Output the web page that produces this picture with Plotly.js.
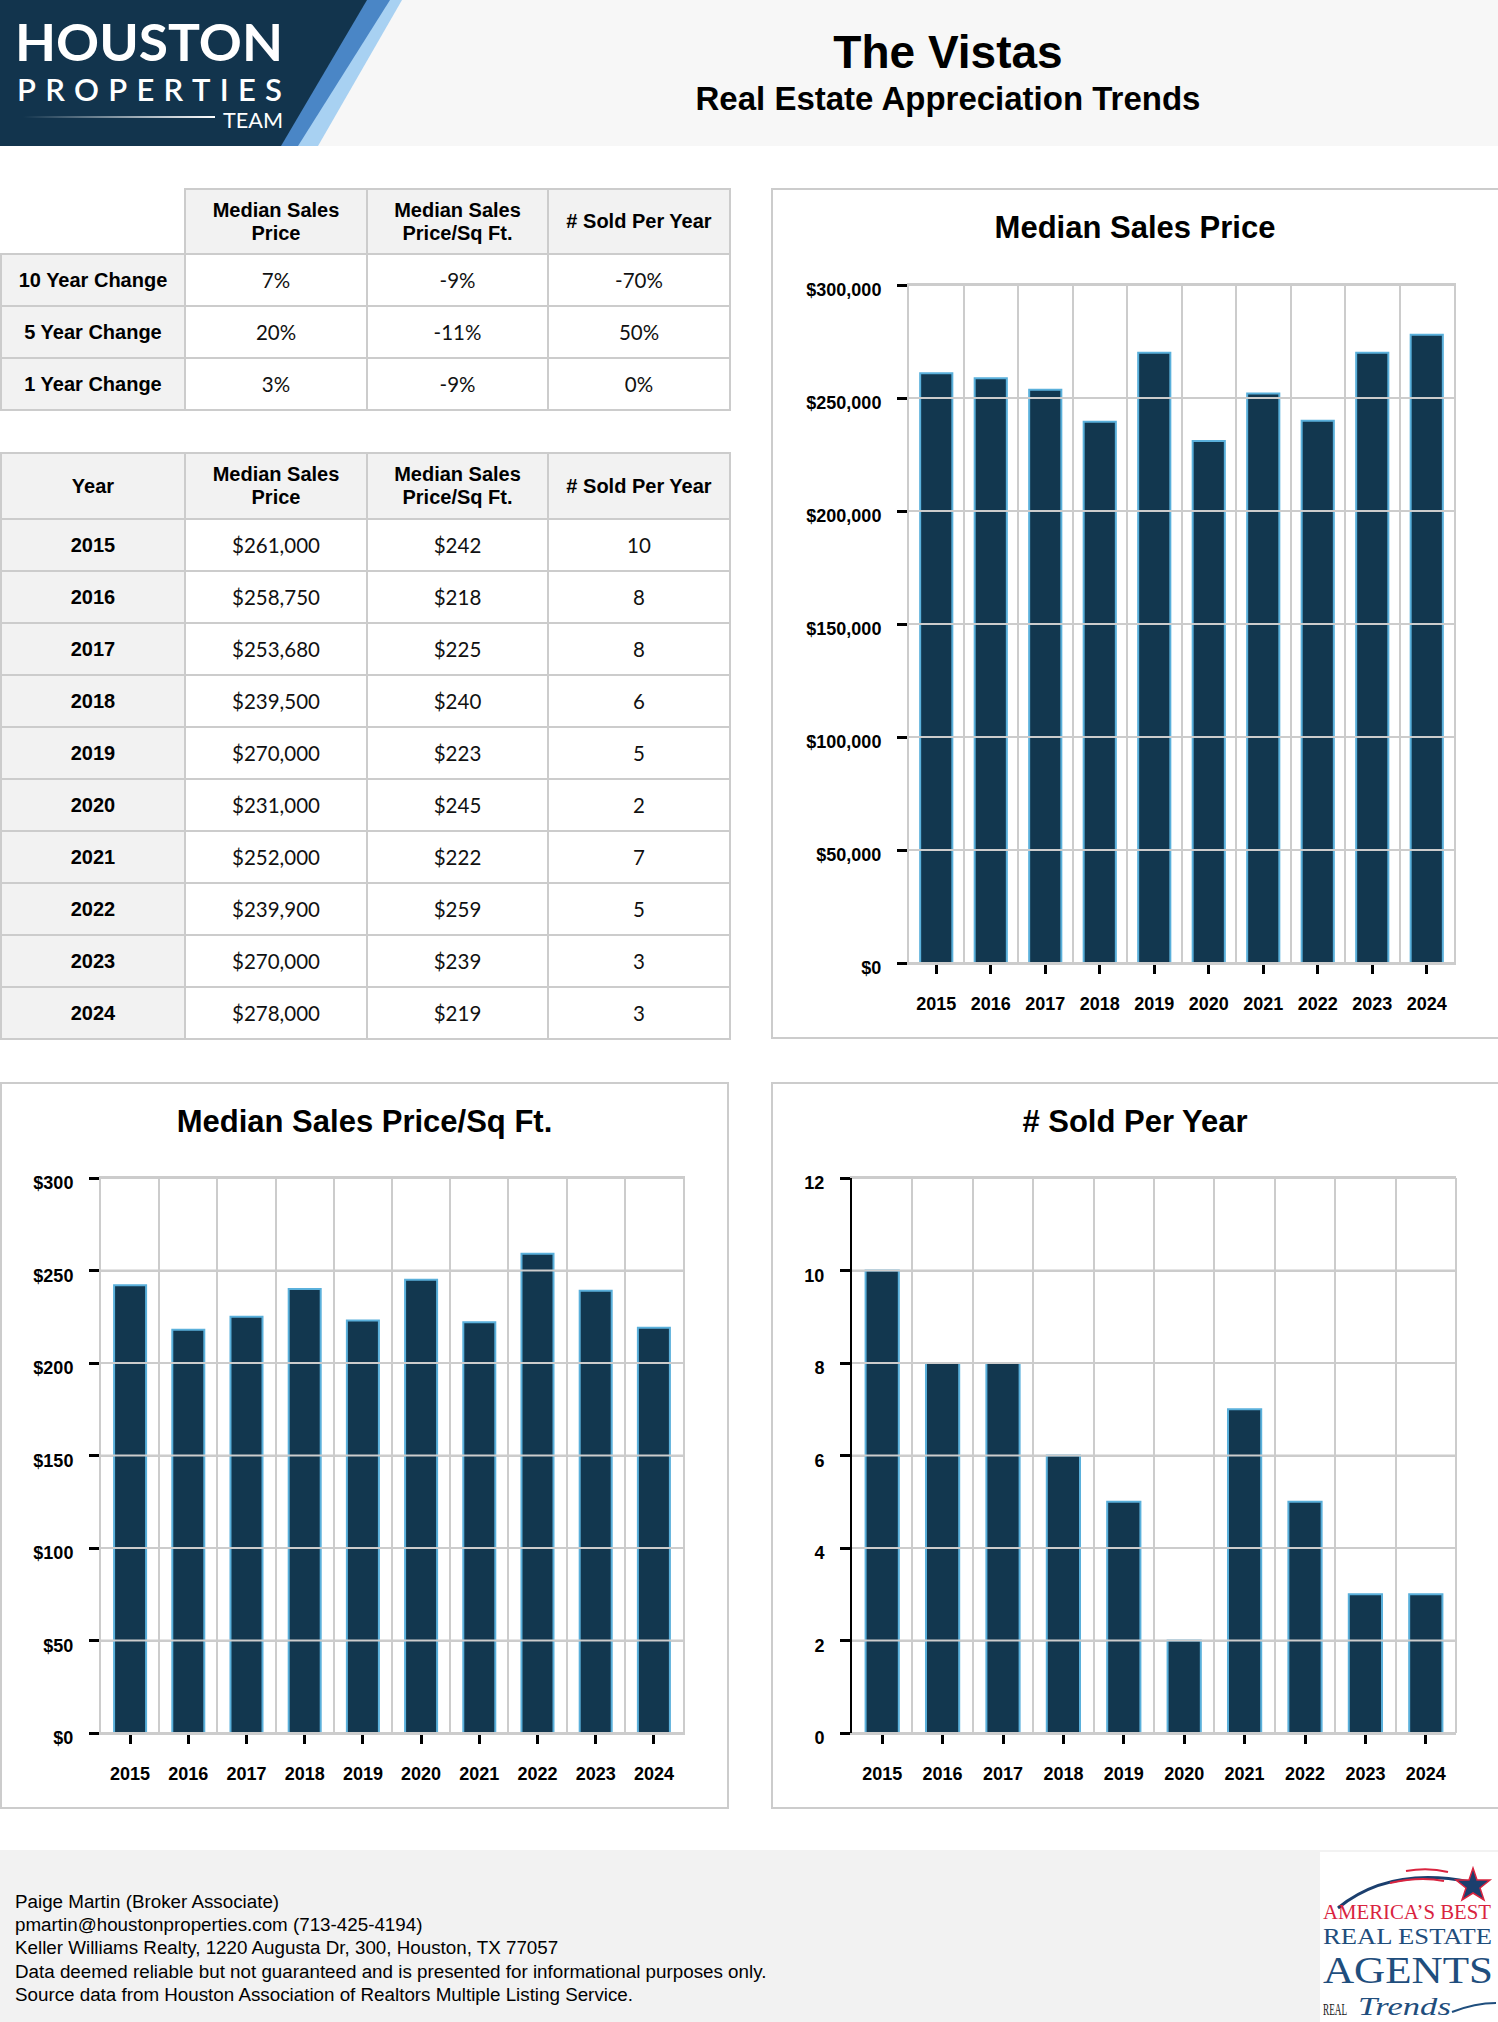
<!DOCTYPE html>
<html>
<head>
<meta charset="utf-8">
<script src="https://cdn.plot.ly/plotly-3.0.1.min.js"></script>
<style>
html,body{margin:0;padding:0;width:1498px;height:2022px;overflow:hidden;background:#fff;}
body{position:relative;font-family:"Liberation Sans",Arial,Helvetica,sans-serif;color:#000;}
.abs{position:absolute;}
.panel{position:absolute;border:2px solid #cccccc;box-sizing:border-box;background:#fff;}
table.dt{position:absolute;border-collapse:collapse;table-layout:fixed;}
table.dt td{border:2px solid #cccccc;text-align:center;vertical-align:middle;padding:0;}
table.dt td.hd{background:#f2f2f2;font-weight:bold;font-size:20px;line-height:23px;font-family:"Liberation Sans",Arial,sans-serif;}
table.dt td.lb{background:#f2f2f2;font-weight:bold;font-size:20px;font-family:"Liberation Sans",Arial,sans-serif;}
table.dt td.vl{background:#fff;font-size:20.5px;font-family:Lato,"Liberation Sans",Arial,sans-serif;color:#111;}
table.dt td.blank{background:#fff;border-top:none;border-left:none;}
#footer{position:absolute;left:0;top:1850px;width:1498px;height:172px;background:#f2f2f2;}
#footText{position:absolute;left:15px;top:1890px;font-size:18.8px;line-height:23.2px;font-family:"Liberation Sans",Arial,sans-serif;color:#000;white-space:nowrap;}
</style>
</head>
<body>

<!-- Header -->
<svg class="abs" style="left:0;top:0" width="1498" height="146" xmlns="http://www.w3.org/2000/svg">
  <defs>
    <linearGradient id="lineFade" x1="0" x2="1" y1="0" y2="0">
      <stop offset="0" stop-color="#ffffff" stop-opacity="0"/>
      <stop offset="1" stop-color="#ffffff" stop-opacity="1"/>
    </linearGradient>
  </defs>
  <rect x="0" y="0" width="1498" height="146" fill="#f7f7f7"/>
  <polygon points="388,0 402,0 318,146 292,146" fill="#a8d1f2"/>
  <polygon points="366,0 390,0 298,146 280,146" fill="#4a86c6"/>
  <polygon points="0,0 367,0 281,146 0,146" fill="#12344d"/>
  <text x="15" y="61" font-family="Lato, 'Open Sans', sans-serif" font-weight="bold" font-size="52" fill="#ffffff" textLength="268" lengthAdjust="spacingAndGlyphs">HOUSTON</text>
  <text x="17" y="101" font-family="Lato, 'Open Sans', sans-serif" font-weight="600" font-size="31" fill="#ffffff" textLength="265" lengthAdjust="spacing">PROPERTIES</text>
  <text x="223" y="128" font-family="Lato, 'Open Sans', sans-serif" font-size="22" fill="#ffffff" textLength="60" lengthAdjust="spacingAndGlyphs">TEAM</text>
  <rect x="23" y="116" width="192" height="2" fill="url(#lineFade)"/>
  <text x="948" y="68" text-anchor="middle" font-family="'Liberation Sans', Arial, sans-serif" font-weight="bold" font-size="46" fill="#000">The Vistas</text>
  <text x="948" y="110" text-anchor="middle" font-family="'Liberation Sans', Arial, sans-serif" font-weight="bold" font-size="33" fill="#000">Real Estate Appreciation Trends</text>
</svg>

<table class="dt" id="changeTable" style="left:0;top:188px;width:729px;"></table>
<table class="dt" id="yearTable" style="left:0;top:452px;width:729px;"></table>

<div class="panel" style="left:771px;top:188px;width:740px;height:851px;"></div>
<div class="panel" style="left:0px;top:1082px;width:729px;height:727px;"></div>
<div class="panel" style="left:771px;top:1082px;width:740px;height:727px;"></div>

<div id="chartPrice" class="abs" style="left:772px;top:189px;width:726px;height:849px;"></div>
<div id="chartSqft" class="abs" style="left:1px;top:1083px;width:727px;height:725px;"></div>
<div id="chartSold" class="abs" style="left:772px;top:1083px;width:726px;height:725px;"></div>

<div id="footer"></div>
<div id="footText"></div>

<svg class="abs" style="left:1320px;top:1852px" width="178" height="170" xmlns="http://www.w3.org/2000/svg">
  <rect x="0" y="0" width="178" height="170" fill="#ffffff"/>
  <path d="M 18 56 Q 70 14 150 30" stroke="#1b3f6e" stroke-width="3" fill="none"/>
  <path d="M 70 31 Q 100 24 124 29" stroke="#d9243f" stroke-width="2" fill="none"/>
  <path d="M 86 19 Q 108 15 128 20" stroke="#d9243f" stroke-width="2" fill="none"/>
  <polygon points="153,16 157,28 170,28 160,36 164,48 153,41 142,48 146,36 136,28 149,28" fill="#1b3f6e" stroke="#d9243f" stroke-width="1.5"/>
  <text x="3" y="67" font-family="'Liberation Serif', 'DejaVu Serif', serif" font-size="20" fill="#d9243f" textLength="168" lengthAdjust="spacingAndGlyphs">AMERICA’S BEST</text>
  <text x="3" y="92" font-family="'Liberation Serif', 'DejaVu Serif', serif" font-size="23" fill="#1f4e7d" textLength="169" lengthAdjust="spacingAndGlyphs">REAL ESTATE</text>
  <text x="3" y="131" font-family="'Liberation Serif', 'DejaVu Serif', serif" font-size="37" fill="#1f4e7d" textLength="170" lengthAdjust="spacingAndGlyphs">AGENTS</text>
  <text transform="translate(3,163) scale(0.58,1)" x="0" y="0" font-family="'Liberation Serif', 'DejaVu Serif', serif" font-size="16" fill="#222">REAL</text>
  <text transform="translate(38,163) scale(1.33,1)" x="0" y="0" font-family="'Liberation Serif', 'DejaVu Serif', serif" font-style="italic" font-size="26" fill="#1f4e7d">Trends</text>
  <path d="M 132 160 Q 155 151 176 151" stroke="#1f4e7d" stroke-width="2" fill="none"/>
</svg>

<script>
// ---------------- DATA ----------------
const years = [2015, 2016, 2017, 2018, 2019, 2020, 2021, 2022, 2023, 2024];
const medianPrice = [261000, 258750, 253680, 239500, 270000, 231000, 252000, 239900, 270000, 278000];
const pricePerSqft = [242, 218, 225, 240, 223, 245, 222, 259, 239, 219];
const soldPerYear = [10, 8, 8, 6, 5, 2, 7, 5, 3, 3];

const columnHeaders = ['Median Sales<br>Price', 'Median Sales<br>Price/Sq Ft.', '# Sold Per Year'];
const changeLabels = ['10 Year Change', '5 Year Change', '1 Year Change'];
const changePrice = ['7%', '20%', '3%'];
const changeSqft = ['-9%', '-11%', '-9%'];
const changeSold = ['-70%', '50%', '0%'];

const priceTicks = [0, 50000, 100000, 150000, 200000, 250000, 300000];
const sqftTicks = [0, 50, 100, 150, 200, 250, 300];
const soldTicks = [0, 2, 4, 6, 8, 10, 12];

const footerLines = [
  'Paige Martin (Broker Associate)',
  'pmartin@houstonproperties.com (713-425-4194)',
  'Keller Williams Realty, 1220 Augusta Dr, 300, Houston, TX 77057',
  'Data deemed reliable but not guaranteed and is presented for informational purposes only.',
  'Source data from Houston Association of Realtors Multiple Listing Service.'
];

// ---------------- TABLES ----------------
const colWidths = [184, 182, 181, 182];
function colgroup() {
  return '<colgroup>' + colWidths.map(w => '<col style="width:' + w + 'px">').join('') + '</colgroup>';
}
function money(v) { return '$' + v.toLocaleString('en-US'); }

(function () {
  let h = colgroup();
  h += '<tr style="height:65px"><td class="blank"></td>' + columnHeaders.map(c => '<td class="hd">' + c + '</td>').join('') + '</tr>';
  changeLabels.forEach((lab, i) => {
    h += '<tr style="height:52px"><td class="lb">' + lab + '</td><td class="vl">' + changePrice[i] + '</td><td class="vl">' + changeSqft[i] + '</td><td class="vl">' + changeSold[i] + '</td></tr>';
  });
  document.getElementById('changeTable').innerHTML = h;

  let g = colgroup();
  g += '<tr style="height:66px"><td class="hd">Year</td>' + columnHeaders.map(c => '<td class="hd">' + c + '</td>').join('') + '</tr>';
  years.forEach((y, i) => {
    g += '<tr style="height:52px"><td class="lb">' + y + '</td><td class="vl">' + money(medianPrice[i]) + '</td><td class="vl">' + money(pricePerSqft[i]) + '</td><td class="vl">' + soldPerYear[i] + '</td></tr>';
  });
  document.getElementById('yearTable').innerHTML = g;

  document.getElementById('footText').innerHTML = footerLines.join('<br>');
})();

// ---------------- CHARTS ----------------
const FONT = '"Liberation Sans", Arial, Helvetica, sans-serif';
const BAR_FILL = '#12374f';
const BAR_EDGE = '#5ab0db';
const GRID = '#cccccc';

function drawChart(id, opt) {
  const trace = {
    type: 'bar', x: years, y: opt.values,
    marker: { color: BAR_FILL, line: { color: BAR_EDGE, width: 2 } },
    hoverinfo: 'skip'
  };
  const shapes = opt.ticks.map(v => ({
    type: 'line', xref: 'paper', x0: 0, x1: 1, yref: 'y', y0: v, y1: v,
    line: { color: GRID, width: 2 }, layer: 'above'
  }));
  if (opt.blackAxis) {
    shapes.push({ type: 'line', xref: 'paper', x0: 1, x1: 1, yref: 'paper', y0: 0, y1: 1, line: { color: GRID, width: 2 }, layer: 'above' });
  }
  const tickfont = { family: FONT, size: 18, color: '#000', weight: 'bold' };
  const layout = {
    width: opt.w, height: opt.h,
    margin: { l: opt.l, r: opt.w - opt.l - opt.pw, t: opt.t, b: opt.h - opt.t - opt.ph, pad: 0 },
    paper_bgcolor: 'rgba(0,0,0,0)', plot_bgcolor: '#ffffff',
    showlegend: false,
    bargap: opt.bargap,
    title: {
      text: opt.title, font: { family: FONT, size: 31, color: '#000', weight: 'bold' },
      x: 0.5, xref: 'container', xanchor: 'center',
      y: 1 - 38 / opt.h, yref: 'container', yanchor: 'middle'
    },
    xaxis: {
      type: 'linear', range: [years[0] - 0.5, years[years.length - 1] + 0.5],
      tickmode: 'array', tickvals: years, ticktext: years.map(String),
      ticks: 'outside', ticklen: 9, tickwidth: 3, tickcolor: '#000',
      showgrid: false, zeroline: false,
      showline: true, linecolor: GRID, linewidth: 2, mirror: true,
      tickfont: tickfont, ticklabelstandoff: 14,
      minor: { tickmode: 'linear', tick0: years[0] - 0.5, dtick: 1, showgrid: true, gridcolor: GRID, gridwidth: 2, ticks: '' },
      fixedrange: true
    },
    yaxis: {
      range: [0, opt.ticks[opt.ticks.length - 1]],
      tickmode: 'array', tickvals: opt.ticks, ticktext: opt.ticks.map(opt.fmt),
      ticks: 'outside', ticklen: 10, tickwidth: 3, tickcolor: '#000',
      showgrid: true, gridcolor: GRID, gridwidth: 2, zeroline: false,
      showline: true, linecolor: opt.blackAxis ? '#000' : GRID, linewidth: 2, mirror: !opt.blackAxis,
      tickfont: tickfont, ticklabelstandoff: 12, ticklabelshift: 5,
      fixedrange: true
    },
    shapes: shapes
  };
  Plotly.newPlot(id, [trace], layout, { staticPlot: true, displayModeBar: false });
}

drawChart('chartPrice', {
  title: 'Median Sales Price', values: medianPrice, ticks: priceTicks,
  fmt: v => '$' + v.toLocaleString('en-US'),
  w: 726, h: 849, l: 137, pw: 545, t: 96, ph: 678, bargap: 0.41
});
drawChart('chartSqft', {
  title: 'Median Sales Price/Sq Ft.', values: pricePerSqft, ticks: sqftTicks,
  fmt: v => '$' + v,
  w: 727, h: 725, l: 100, pw: 582, t: 95, ph: 555, bargap: 0.45
});
drawChart('chartSold', {
  title: '# Sold Per Year', values: soldPerYear, ticks: soldTicks,
  fmt: v => String(v), blackAxis: true,
  w: 726, h: 725, l: 80, pw: 604, t: 95, ph: 555, bargap: 0.45
});
</script>
</body>
</html>
